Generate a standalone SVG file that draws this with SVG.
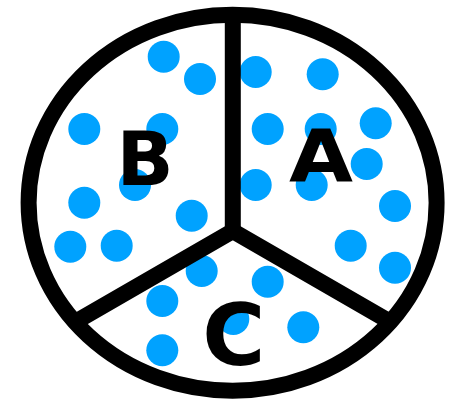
<svg xmlns="http://www.w3.org/2000/svg" width="460" height="399" viewBox="0 0 460 399">
<style>
.dot{fill:#00a2ff}
.ln{fill:none;stroke:#000;stroke-width:16}
.lbl{font-family:"DejaVu Sans",sans-serif;font-weight:bold;fill:#000}
</style>
<rect width="460" height="399" fill="#fff"/>
<g id="dots">
<circle class="dot" cx="163.7" cy="56.7" r="16"/>
<circle class="dot" cx="200" cy="79" r="16"/>
<circle class="dot" cx="255.7" cy="72" r="16"/>
<circle class="dot" cx="322.7" cy="74.3" r="16"/>
<circle class="dot" cx="84.3" cy="129" r="16"/>
<circle class="dot" cx="162.3" cy="129" r="16"/>
<circle class="dot" cx="267.7" cy="129" r="16"/>
<circle class="dot" cx="320.7" cy="129" r="16"/>
<circle class="dot" cx="375.7" cy="123.3" r="16"/>
<circle class="dot" cx="366.7" cy="164" r="16"/>
<circle class="dot" cx="255.7" cy="185" r="16"/>
<circle class="dot" cx="311.7" cy="185" r="16"/>
<circle class="dot" cx="135" cy="185" r="16"/>
<circle class="dot" cx="84.3" cy="202.7" r="16"/>
<circle class="dot" cx="191.7" cy="215.7" r="16"/>
<circle class="dot" cx="395" cy="206" r="16"/>
<circle class="dot" cx="70.3" cy="246.7" r="16"/>
<circle class="dot" cx="116.7" cy="245.7" r="16"/>
<circle class="dot" cx="350.7" cy="245.7" r="16"/>
<circle class="dot" cx="395" cy="267.7" r="16"/>
<circle class="dot" cx="201.7" cy="271" r="16"/>
<circle class="dot" cx="267.7" cy="281.7" r="16"/>
<circle class="dot" cx="162.3" cy="301" r="16"/>
<circle class="dot" cx="233.3" cy="319" r="16"/>
<circle class="dot" cx="303.3" cy="327.3" r="16"/>
<circle class="dot" cx="162.3" cy="350.3" r="16"/>
</g>
<g id="outline">
<ellipse class="ln" cx="232.6" cy="202.7" rx="204" ry="188"/>
</g>
<g id="connectors">
<path class="ln" d="M232.8 14.5 L232.8 231"/>
<path class="ln" stroke-linejoin="miter" d="M75.2 322 L232.8 231 L390.4 322"/>
</g>
<g id="labels">
<text class="lbl" x="145" y="185" font-size="75" text-anchor="middle">B</text>
<text class="lbl" x="289" y="181.7" font-size="73" textLength="64" lengthAdjust="spacingAndGlyphs">A</text>
<text class="lbl" x="233.7" y="365" font-size="86" text-anchor="middle">C</text>
</g>
</svg>
